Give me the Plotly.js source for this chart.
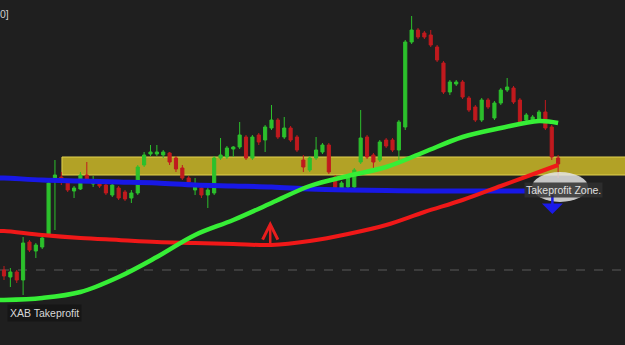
<!DOCTYPE html>
<html>
<head>
<meta charset="utf-8">
<script src="https://cdn.plot.ly/plotly-3.0.1.min.js"></script>
<style>html,body{margin:0;padding:0;background:#1f1f1f;}#chart{width:625px;height:345px;}</style>
</head>
<body>
<div id="chart"></div>
<script>
// Candle data (index-based bars), price units
const candleOpen  = [75,68,73,65,103,94,98,110,167,168,162,154,156,170,161,164,160,150,157,153,147,152,180,191,191,190,192,187,177,167,155,157,150,152,187,188,196,198,208,187,210,205,217,225,208,217,208,185,175,187,193,200,168,157,158,158,183,208,190,185,205,205,195,218,303,315,312,310,298,282,253,261,263,247,238,225,245,227,242,255,257,245,225,225,225,233,218,187];
const candleHigh  = [79,77,75,108,105,102,109,164,185,173,165,159,173,183,169,166,162,162,159,155,155,180,193,200,200,195,193,189,180,169,167,159,159,189,207,199,199,223,210,210,212,220,240,227,228,219,210,190,189,208,202,202,170,164,169,177,235,210,192,205,207,207,225,305,329,317,314,315,300,284,265,265,265,249,240,247,247,244,257,267,259,247,232,230,235,245,220,190];
const candleLow   = [65,58,62,50,93,87,96,108,115,160,153,147,155,163,158,157,150,148,145,144,142,150,178,189,189,187,180,173,165,161,150,147,137,150,185,186,188,196,185,185,200,193,215,206,206,203,193,173,173,185,191,171,155,155,156,156,181,186,175,183,197,193,185,215,301,306,306,298,283,251,250,259,246,233,223,223,236,225,240,253,241,221,223,223,223,215,185,167];
const candleClose = [69,73,65,102,95,100,107,162,170,163,155,157,170,165,165,159,152,160,147,146,152,178,190,193,193,193,183,176,167,163,159,150,155,187,190,197,198,210,187,208,203,218,225,208,217,205,195,178,187,195,200,173,157,162,167,175,207,188,183,203,199,195,223,303,315,308,308,300,285,253,263,263,248,235,225,245,238,242,255,258,243,223,230,228,233,217,188,181];
const candleIndex = candleOpen.map((_, i) => i);

// Moving-average style lines (sampled at candle indices)
const lineIndex  = [-1,0,6,12,18,24,30,36,42,48,54,60,66,72,78,84,87];
const greenLine  = [45,45,47,53,68,88,110,125,142,159,169,178,193,208,217,224,222];
const redLine    = [114,114,110,107,105,103,102,101,100,104,111,120,133,145,159,173,180];
const blueIndex  = [-1,0,6,12,18,24,30,36,42,48,54,60,66,72,78,82];
const blueLine   = [167,167,165,164,163,162,160,159,158,156,155,154.5,154,154,154,154];

// Zone / levels
const zoneLow = 170, zoneHigh = 188, zoneStart = 9.1;
const dashedLevel = 75;

const traces = [
  {
    type: 'candlestick', x: candleIndex,
    open: candleOpen, high: candleHigh, low: candleLow, close: candleClose,
    increasing: {line: {color: '#2cc02c', width: 1}, fillcolor: '#2cc02c'},
    decreasing: {line: {color: '#c01a1e', width: 1}, fillcolor: '#c01a1e'},
    whiskerwidth: 0, hoverinfo: 'skip', showlegend: false
  },
  {type: 'scatter', mode: 'lines', x: blueIndex, y: blueLine,
   line: {color: '#1818e6', width: 5, shape: 'spline'}, hoverinfo: 'skip', showlegend: false},
  {type: 'scatter', mode: 'lines', x: lineIndex, y: redLine,
   line: {color: '#f01818', width: 4, shape: 'spline'}, hoverinfo: 'skip', showlegend: false},
  {type: 'scatter', mode: 'lines', x: lineIndex, y: greenLine,
   line: {color: '#36ee36', width: 4.5, shape: 'spline'}, hoverinfo: 'skip', showlegend: false}
];

const layout = {
  width: 625, height: 345,
  margin: {l: 0, r: 0, t: 0, b: 0},
  paper_bgcolor: '#1f1f1f', plot_bgcolor: '#1f1f1f',
  showlegend: false, hovermode: false,
  xaxis: {range: [-0.628, 97.5], showgrid: false, zeroline: false, showticklabels: false,
          showline: false, ticks: '', rangeslider: {visible: false}, fixedrange: true},
  yaxis: {range: [0, 345], showgrid: false, zeroline: false, showticklabels: false,
          showline: false, ticks: '', fixedrange: true},
  shapes: [
    {type: 'line', xref: 'paper', x0: 0, x1: 1, yref: 'y', y0: dashedLevel, y1: dashedLevel,
     line: {color: '#5a5a5a', width: 1, dash: 'dash'}, layer: 'below'},
    {type: 'rect', xref: 'x', x0: zoneStart, x1: 100, yref: 'y', y0: zoneLow, y1: zoneHigh,
     fillcolor: '#b2a226', line: {color: '#e2d24e', width: 1}, layer: 'below'},
    {type: 'circle', xref: 'x', x0: 82.9, x1: 91.7, yref: 'y', y0: 143, y1: 173,
     fillcolor: 'rgba(228,228,228,0.85)', line: {width: 0}, layer: 'above'}
  ],
  annotations: [
    {x: 86.1, y: 131, xref: 'x', yref: 'y', ax: 0, ay: -21, text: '', showarrow: true,
     arrowhead: 1, arrowwidth: 2.5, arrowsize: 1.4, arrowcolor: '#1a1ae8'},
    {x: 41.8, y: 124, xref: 'x', yref: 'y', ax: 0, ay: 24, text: '', showarrow: true,
     arrowhead: 5, arrowwidth: 2.5, arrowsize: 1.2, arrowcolor: '#e81e1e'},
    {x: 87.9, y: 155, xref: 'x', yref: 'y', text: 'Takeprofit Zone.', showarrow: false,
     font: {family: 'Liberation Sans, Arial, sans-serif', size: 10.5, color: '#e0e0e0'},
     bgcolor: 'rgba(48,48,48,0.85)', borderpad: 1},
    {x: 6.3, y: 32, xref: 'x', yref: 'y', text: 'XAB Takeprofit', showarrow: false,
     font: {family: 'Liberation Sans, Arial, sans-serif', size: 10.5, color: '#d8d8d8'},
     bgcolor: '#161616', borderpad: 2},
    {x: 0, y: 1, xref: 'paper', yref: 'paper', xanchor: 'left', yanchor: 'top', xshift: -2, yshift: -6,
     text: '0]', showarrow: false,
     font: {family: 'Liberation Sans, Arial, sans-serif', size: 10.5, color: '#cfcfcf'}}
  ]
};

Plotly.newPlot('chart', traces, layout, {displayModeBar: false, staticPlot: true});
</script>
</body>
</html>
